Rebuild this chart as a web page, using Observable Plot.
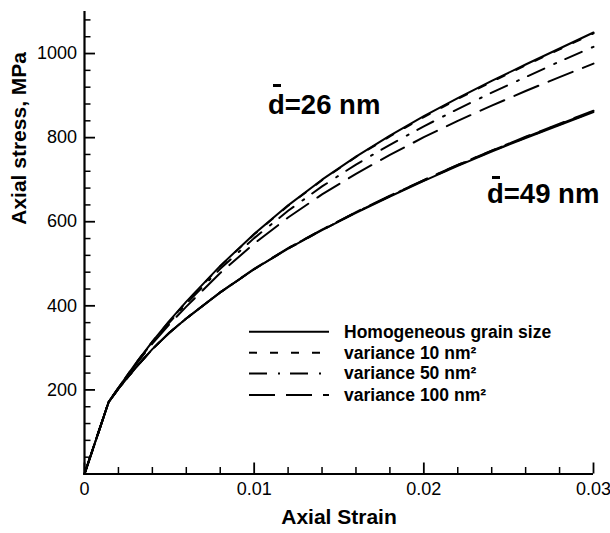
<!DOCTYPE html>
<html><head><meta charset="utf-8">
<script src="https://cdn.jsdelivr.net/npm/d3@7"></script>
<script src="https://cdn.jsdelivr.net/npm/@observablehq/plot@0.6"></script>
<style>
body{margin:0;background:#fff;}
#wrap{position:relative;width:610px;height:533px;font-family:"Liberation Sans",Arial,Helvetica,sans-serif;}
#wrap svg.overlay{position:absolute;left:0;top:0;pointer-events:none;}
</style></head><body><div id="wrap"></div>
<script>
// strain values (x)
const strain = [0, 0.00142, 0.002, 0.003, 0.004, 0.005, 0.006, 0.008, 0.010, 0.012, 0.014, 0.016, 0.018, 0.020, 0.022, 0.024, 0.026, 0.028, 0.030];
// d = 26 nm group (MPa)
const d26Homogeneous = [0, 171, 205, 262, 315, 364, 410, 495, 571, 639, 700, 755, 805, 851, 894, 935, 974, 1012, 1050];
const d26Var10       = [0, 171, 205, 262, 315, 363, 409, 494, 570, 638, 699, 754, 803, 849, 892, 933, 972, 1010, 1048];
const d26Var50       = [0, 171, 205, 261, 313, 360, 405, 488, 561, 626, 684, 736, 783, 827, 868, 907, 944, 981, 1016];
const d26Var100      = [0, 171, 204, 259, 310, 356, 398, 478, 548, 610, 665, 714, 759, 801, 840, 876, 911, 944, 976];
// d = 49 nm group (MPa)
const d49Homogeneous = [0, 171, 203, 252, 297, 336, 370, 432, 487, 536, 580, 621, 660, 697, 733, 767, 799, 830, 861];
const d49Var10       = [0, 171, 203, 252, 297, 336, 370, 432, 487, 536, 580, 622, 661, 698, 734, 768, 800, 831, 862];
const d49Var50       = [0, 171, 203, 252, 297, 336, 370, 432, 487, 537, 581, 622, 661, 699, 735, 769, 801, 832, 863];
const d49Var100      = [0, 171, 203, 252, 297, 336, 370, 432, 488, 537, 581, 623, 662, 699, 735, 769, 802, 833, 864];

const seriesNames = ["Homogeneous grain size", "variance 10 nm²", "variance 50 nm²", "variance 100 nm²"];
const seriesDash = ["none", "8,13", "18,11,2,10", "26,11"];
const groupLabels = ["26", "49"];

const xMajorTicks = [0, 0.01, 0.02, 0.03];
const xMinorTicks = [0.002, 0.004, 0.006, 0.008, 0.012, 0.014, 0.016, 0.018, 0.022, 0.024, 0.026, 0.028];
const yMajorTicks = [200, 400, 600, 800, 1000];
const yMinorTicks = [40, 80, 120, 160, 240, 280, 320, 360, 440, 480, 520, 560, 640, 680, 720, 760, 840, 880, 920, 960, 1040, 1080];

const groups = [
  [d26Homogeneous, d26Var10, d26Var50, d26Var100],
  [d49Homogeneous, d49Var10, d49Var50, d49Var100]
];

const lineMarks = [];
for (let s = 0; s < seriesNames.length; s++) {
  groups.forEach((g) => {
    const rows = strain.map((e, i) => ({strain: e, stress: g[s][i]}));
    lineMarks.push(Plot.line(rows, {x: "strain", y: "stress", stroke: "black", strokeWidth: 2,
      strokeDasharray: seriesDash[s] === "none" ? null : seriesDash[s]}));
  });
}

const font = '"Liberation Sans", Arial, Helvetica, sans-serif';
const chart = Plot.plot({
  width: 610, height: 533,
  marginLeft: 84, marginRight: 17, marginTop: 11, marginBottom: 59.5,
  x: {domain: [0, 0.03]},
  y: {domain: [0, 1100]},
  style: {fontFamily: font, fontSize: "18px", color: "black", background: "white"},
  marks: [
    Plot.axisX({ticks: xMinorTicks, tickSize: -6.5, tickFormat: () => "", label: null, strokeWidth: 1.5}),
    Plot.axisX({ticks: xMajorTicks, tickSize: -11, tickPadding: 19.5, tickFormat: d => String(d), label: null, strokeWidth: 1.8, fontSize: 18}),
    Plot.axisY({ticks: yMinorTicks, tickSize: -6.5, tickFormat: () => "", label: null, strokeWidth: 1.5}),
    Plot.axisY({ticks: yMajorTicks, tickSize: -11, tickPadding: 18.5, tickFormat: d => String(d), label: null, strokeWidth: 1.8, fontSize: 18}),
    ...lineMarks,
    Plot.ruleX([0], {strokeWidth: 2.2}),
    Plot.ruleY([0], {strokeWidth: 2.2}),
    Plot.text(["Axial Strain"], {frameAnchor: "bottom", dy: 50, fontWeight: "bold", fontSize: 21}),
    Plot.text(["Axial stress, MPa"], {frameAnchor: "left", dx: -65, dy: -18, rotate: -90, fontWeight: "bold", fontSize: 21})
  ]
});
const wrap = document.getElementById("wrap");
wrap.appendChild(chart);

// overlay: legend + group annotations (layout only)
const ns = "http://www.w3.org/2000/svg";
const ov = document.createElementNS(ns, "svg");
ov.setAttribute("class", "overlay");
ov.setAttribute("width", 610); ov.setAttribute("height", 533);
wrap.appendChild(ov);
const legendRowY = [331.7, 352.7, 373.5, 395];
seriesNames.forEach((name, i) => {
  const y = legendRowY[i];
  const l = document.createElementNS(ns, "line");
  l.setAttribute("x1", 249); l.setAttribute("x2", 329);
  l.setAttribute("y1", y); l.setAttribute("y2", y);
  l.setAttribute("stroke", "black"); l.setAttribute("stroke-width", 2);
  if (seriesDash[i] !== "none") l.setAttribute("stroke-dasharray", seriesDash[i]);
  ov.appendChild(l);
  const t = document.createElementNS(ns, "text");
  t.setAttribute("x", 344); t.setAttribute("y", y + 5.8);
  t.setAttribute("font-family", font); t.setAttribute("font-weight", "bold");
  t.setAttribute("font-size", "17.5px");
  t.textContent = name;
  ov.appendChild(t);
});
const annot = [
  {text: "d=" + groupLabels[0] + " nm", x: 268, y: 114, bx: 273, by: 84},
  {text: "d=" + groupLabels[1] + " nm", x: 487, y: 203, bx: 492, by: 176}
];
annot.forEach(a => {
  const t = document.createElementNS(ns, "text");
  t.setAttribute("x", a.x); t.setAttribute("y", a.y);
  t.setAttribute("font-family", font); t.setAttribute("font-weight", "bold");
  t.setAttribute("font-size", "27.5px");
  t.textContent = a.text;
  ov.appendChild(t);
  const r = document.createElementNS(ns, "rect");
  r.setAttribute("x", a.bx); r.setAttribute("y", a.by);
  r.setAttribute("width", 8); r.setAttribute("height", 3);
  r.setAttribute("fill", "black");
  ov.appendChild(r);
});
</script>
</body></html>
